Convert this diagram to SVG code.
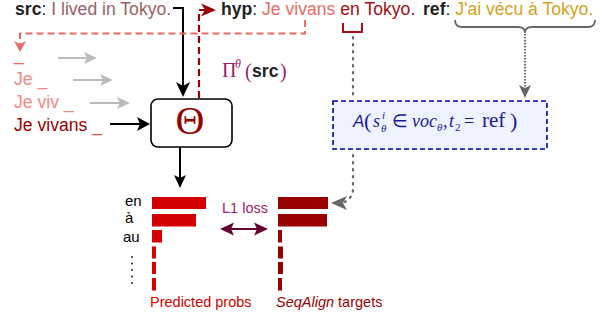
<svg xmlns="http://www.w3.org/2000/svg" width="607" height="320" viewBox="0 0 607 320">
<style>
.t{font-family:"Liberation Sans",Arial,sans-serif;font-size:17.6px}
.b{font-weight:bold;fill:#222}
.dot{fill:none;stroke:#666;stroke-width:2.2;stroke-dasharray:1.5 5.5;stroke-linecap:round}
</style>
<rect width="607" height="320" fill="#fff"/>
<g id="top-text">
<text class="t" x="15" y="15"><tspan class="b">src</tspan><tspan fill="#222">: </tspan><tspan fill="#9a6166">I lived in Tokyo.</tspan></text>
<text class="t" x="221" y="15"><tspan class="b">hyp</tspan><tspan fill="#222">: </tspan><tspan fill="#ea6b66">Je vivans </tspan><tspan fill="#a50f15">en Tokyo.</tspan></text>
<text class="t" x="423" y="15"><tspan class="b">ref</tspan><tspan fill="#222">: </tspan><tspan fill="#d4a21c">J'ai vécu à Tokyo.</tspan></text>
</g>
<g id="prefixes">
<text class="t" x="14" y="60" fill="#ea6b66">_</text>
<text class="t" x="14" y="85" fill="#f08a85">Je _</text>
<text class="t" x="14" y="108" fill="#f08a85">Je viv _</text>
<text class="t" x="14" y="131"><tspan fill="#990000">Je vivans </tspan><tspan fill="#d45555">_</tspan></text>
</g>
<g id="theta">
<rect x="151" y="99" width="81" height="48" rx="7" fill="#fff" stroke="#000" stroke-width="1.6"/>
<text x="190" y="134" text-anchor="middle" font-family="Liberation Serif,serif" font-size="40" fill="#990000">Θ</text>
</g>
<g id="pi-label">
<text font-family="Liberation Serif,serif" fill="#99226b"><tspan x="222" y="77" font-size="20">Π</tspan><tspan x="235" y="68" font-size="12" font-style="italic">θ</tspan><tspan x="245" y="78" font-size="20">(</tspan><tspan x="280" y="78" font-size="20">)</tspan></text>
<text class="t b" x="252" y="77">src</text>
</g>
<g id="align">
<rect x="333" y="101" width="214" height="48" fill="#eef3ff" stroke="#0000aa" stroke-width="1.6" stroke-dasharray="5 3"/>
<text fill="#1a1a99" font-family="Liberation Serif,serif" font-size="18"><tspan x="353" y="127" font-family="Liberation Sans,sans-serif" font-style="italic" font-size="17">A</tspan><tspan x="364" y="128" font-size="22">(</tspan><tspan x="373" y="127" font-style="italic">s</tspan><tspan x="382" y="119" font-size="11" font-style="italic">i</tspan><tspan x="381" y="132" font-size="11" font-style="italic">θ</tspan><tspan x="392" y="127">∈</tspan><tspan x="412" y="127" font-style="italic">voc</tspan><tspan x="437" y="131" font-size="11" font-style="italic">θ</tspan><tspan x="443" y="127">,</tspan><tspan x="449" y="127" font-style="italic">t</tspan><tspan x="455" y="131" font-size="11">2</tspan><tspan x="464" y="127">=</tspan><tspan x="482" y="127" font-size="21">ref</tspan><tspan x="510" y="128" font-size="22">)</tspan></text>
</g>
<g id="brace">
<path d="M455,20 Q455,27 462,27 L518,27 Q525,27 525,33 Q525,27 532,27 L588,27 Q595,27 595,20" fill="none" stroke="#666" stroke-width="1.8"/>
</g>
<g id="en-bracket">
<path d="M343,23 L343,32 L362,32 L362,23" fill="none" stroke="#a50f15" stroke-width="2"/>
</g>
<g id="labels">
<text class="t" x="125" y="206" style="font-size:15px">en</text>
<text class="t" x="125" y="223" style="font-size:15px">à</text>
<text class="t" x="123" y="242" style="font-size:15px">au</text>
<g fill="#222"><circle cx="132" cy="257" r="1"/><circle cx="132" cy="263.5" r="1"/><circle cx="132" cy="270" r="1"/><circle cx="132" cy="276.5" r="1"/><circle cx="132" cy="283" r="1"/></g>
</g>
<g id="pred-bars" fill="#d40000">
<rect x="152" y="197" width="54" height="12"/>
<rect x="152" y="214" width="44" height="12.5"/>
<rect x="152" y="230" width="10" height="12.5"/>
<rect x="152" y="246.5" width="4" height="12"/>
<rect x="152" y="262" width="4" height="12"/>
<rect x="152" y="278" width="4" height="12.5"/>
</g>
<g id="target-bars" fill="#990000">
<rect x="278" y="197" width="50" height="12"/>
<rect x="278" y="214" width="49" height="12.5"/>
<rect x="278" y="230" width="4" height="12.5"/>
<rect x="278" y="246.5" width="5" height="12"/>
<rect x="278" y="262" width="5" height="12"/>
<rect x="278" y="278" width="4" height="12.5"/>
</g>
<g id="loss">
<text class="t" x="222" y="213" style="font-size:14.5px" fill="#99226b">L1 loss</text>
</g>
<g id="captions">
<text class="t" x="150" y="307" style="font-size:14.5px" fill="#d40000">Predicted probs</text>
<text class="t" x="276" y="307" style="font-size:14.5px" fill="#990000"><tspan font-style="italic">SeqAlign</tspan> targets</text>
</g>
<g id="connectors">
<path d="M173,8 L183,8 L183,86" fill="none" stroke="#000" stroke-width="2"/>
<polygon points="176,82 183,97 190,82 183,86" fill="#000"/>
<path d="M199,98 L199,10 L205,10" fill="none" stroke="#990000" stroke-width="2.2" stroke-dasharray="7 4"/>
<polygon points="201,3.5 216,10 201,16.5 205,10" fill="#990000"/>
<path d="M305,20 L305,33.5 L20,33.5 L20,44" fill="none" stroke="#ea6b66" stroke-width="2" stroke-dasharray="7 4"/>
<polygon points="14,41 20,52 26,41 20,44" fill="#ea6b66"/>
<g stroke="#bbb" stroke-width="2" fill="#bbb">
<line x1="58" y1="58" x2="88" y2="58"/><polygon points="84,52 97,58 84,64 87,58" stroke="none"/>
<line x1="73" y1="80" x2="104" y2="80"/><polygon points="100,74 113,80 100,86 103,80" stroke="none"/>
<line x1="90" y1="103" x2="121" y2="103"/><polygon points="117,97 130,103 117,109 120,103" stroke="none"/>
</g>
<line x1="110" y1="124" x2="141" y2="124" stroke="#000" stroke-width="2"/>
<polygon points="137,117 150,124 137,131 140,124" fill="#000"/>
<line x1="180" y1="147" x2="180" y2="179" stroke="#000" stroke-width="2"/>
<polygon points="174,175 180,188 186,175 180,178" fill="#000"/>
<path d="M525,34 L525,88" fill="none" stroke="#666" stroke-width="2" stroke-dasharray="1.5 1.5"/>
<polygon points="519,85 525,98 531,85 525,88" fill="#666"/>
<path class="dot" d="M353,37 L353,99"/>
<path class="dot" d="M353,155 L353,190 Q352,198 345,202"/>
<polygon points="331,203 347,196 343,203 347,210" fill="#666"/>
<line x1="228" y1="229" x2="260" y2="229" stroke="#660033" stroke-width="2"/>
<polygon points="220,229 234,222.5 231,229 234,235.5" fill="#660033"/>
<polygon points="268,229 254,222.5 257,229 254,235.5" fill="#660033"/>
</g>
</svg>
